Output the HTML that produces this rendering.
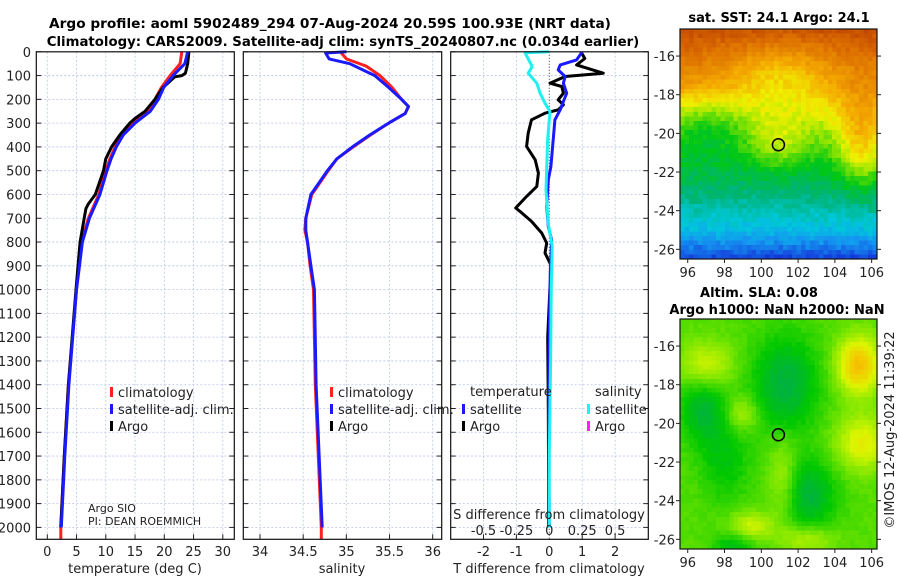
<!DOCTYPE html>
<html><head><meta charset="utf-8">
<style>
html,body{margin:0;padding:0;background:#fff;}
#wrap{position:relative;width:900px;height:580px;overflow:hidden;font-family:"DejaVu Sans","Liberation Sans",sans-serif;}
svg{position:absolute;left:0;top:0;}
canvas{position:absolute;image-rendering:pixelated;}
text{font-family:"DejaVu Sans","Liberation Sans",sans-serif;fill:#222;}
.b{font-weight:bold;fill:#000;font-size:13px;}
</style></head>
<body>
<div id="wrap">
<canvas id="map1" width="44" height="50" style="left:680px;top:29px;width:197px;height:230px;"></canvas>
<canvas id="map2" width="44" height="50" style="left:680px;top:319px;width:197px;height:230px;"></canvas>
<svg id="s" width="900" height="580" xmlns="http://www.w3.org/2000/svg">
<text class="b" x="330" y="28" text-anchor="middle" style="font-size:13.7px">Argo profile: aoml 5902489_294 07-Aug-2024 20.59S 100.93E (NRT data)</text>
<text class="b" x="343" y="46" text-anchor="middle" style="font-size:13.3px">Climatology: CARS2009. Satellite-adj clim: synTS_20240807.nc (0.034d earlier)</text>
<text class="b" x="779" y="22" text-anchor="middle">sat. SST: 24.1 Argo: 24.1</text>
<text class="b" x="759" y="297" text-anchor="middle">Altim. SLA: 0.08</text>
<text class="b" x="777" y="314" text-anchor="middle">Argo h1000: NaN h2000: NaN</text>
<text x="894" y="430" font-size="13" text-anchor="middle" transform="rotate(-90 894 430)">©IMOS 12-Aug-2024 11:39:22</text>
</svg>
</div>
<script>
// ---------------- data ----------------
const depthTicks=[0,100,200,300,400,500,600,700,800,900,1000,1100,1200,1300,1400,1500,1600,1700,1800,1900,2000];
const tempTicks=[0,5,10,15,20,25,30];
const salTicks=[34,34.5,35,35.5,36];
const salTickLabels=["34","34.5","35","35.5","36"];
const dTTicks=[-2,-1,0,1,2];
const dSTicks=[-0.5,-0.25,0,0.25,0.5];
const dSTickLabels=["-0.5","-0.25","0","0.25","0.5"];

const climTDepth=[0,50,100,150,200,250,300,350,400,450,500,600,700,800,900,1000,1400,1700,2000,2050];
const climT=[23.0,22.7,21.0,19.5,18.4,17.2,14.7,12.7,11.6,10.7,10.0,8.8,7.0,5.9,5.4,5.0,3.6,2.9,2.3,2.3];
const satTDepth=[0,50,100,150,200,250,300,350,400,450,500,600,700,800,900,1000,1400,1700,2000];
const satT=[24.0,23.5,21.5,19.9,19.0,17.6,15.0,13.0,11.8,10.9,10.2,9.0,7.2,6.0,5.5,5.0,3.7,3.0,2.4];
const argoTDepth=[0,50,90,100,105,150,200,250,280,300,350,400,450,500,550,600,640,660,700,800,1000,1400,1700,2000];
const argoT=[24.2,24.0,23.6,23.0,21.8,19.8,18.4,16.7,15.0,14.1,12.4,11.0,10.0,9.6,8.9,8.2,7.0,6.6,6.3,5.6,4.9,3.6,2.9,2.3];

const climSDepth=[0,30,60,100,150,200,230,260,300,350,400,450,500,600,700,750,800,900,1000,1400,2000,2050];
const climS=[34.93,35.0,35.23,35.39,35.53,35.64,35.72,35.68,35.49,35.28,35.08,34.89,34.79,34.60,34.53,34.52,34.55,34.58,34.62,34.64,34.71,34.71];
const satSDepth=[0,5,30,50,100,150,200,230,260,300,350,400,450,500,600,700,750,800,900,1000,1400,2000];
const satS=[35.0,34.76,34.80,35.04,35.33,35.49,35.64,35.72,35.68,35.49,35.27,35.07,34.89,34.78,34.59,34.53,34.53,34.55,34.59,34.63,34.65,34.72];

const dSatTDepth=[0,4,34,55,76,104,132,174,209,244,286,370,482,538,650,734,790,930,1200,1600,2000];
const dSatT=[0.98,0.98,0.83,0.33,0.27,0.48,0.43,0.53,0.43,0.33,0.17,0.12,0.05,-0.03,-0.08,-0.03,0.07,0.03,0.0,-0.02,0.0];
const dSatSDepth=[0,4,62,90,132,174,216,251,370,580,720,818,987,1300,1700,2000];
const dSatS=[0.0,-0.185,-0.13,-0.16,-0.095,-0.07,-0.033,0.005,-0.013,-0.025,-0.008,0.022,0.015,0.01,0.0,0.0];
const dArgoTDepth=[0,4,28,55,90,104,132,146,174,202,223,244,258,286,342,398,454,510,566,608,657,671,713,762,804,846,902,987,1200,1500,1800,2000];
const dArgoT=[0.98,0.98,1.08,0.83,1.64,0.48,0.02,0.38,0.43,0.27,0.43,0.27,-0.13,-0.54,-0.64,-0.69,-0.43,-0.33,-0.38,-0.69,-1.02,-0.89,-0.54,-0.23,-0.08,-0.13,0.07,0.02,-0.05,-0.03,-0.02,-0.02];

const mapLonTicks=[96,98,100,102,104,106];
const mapLatTicks=[-16,-18,-20,-22,-24,-26];
const floatLon=100.93, floatLat=-20.59;

// ---------------- layout helpers ----------------
const NS="http://www.w3.org/2000/svg";
const svg=document.getElementById('s');
function el(tag,attrs,parent){const e=document.createElementNS(NS,tag);for(const k in attrs)e.setAttribute(k,attrs[k]);(parent||svg).appendChild(e);return e;}
const TOP=51.8, BOT=539.3, DPX=0.2378;
const yD=d=>TOP+d*DPX;
const xT=t=>47.3+t*5.85;
const xS=s=>260+(s-34)*86.35;
const xDT=v=>549.3+v*32.9;
const xDS=v=>549.3+v*131.6;

function panel(x0,x1,name){
  const g=el('g',{});
  
  
  return g;
}
function frame(g,x0,x1,vgrid){
  vgrid.forEach(x=>{const l=el('line',{x1:x,x2:x,y1:TOP,y2:BOT,stroke:'#b8c4e8','stroke-width':0.8,'stroke-dasharray':'2,2'},g);});
  depthTicks.forEach(d=>{const y=yD(d);
    const l=el('line',{x1:x0,x2:x1,y1:y,y2:y,stroke:'#b8c4e8','stroke-width':0.8,'stroke-dasharray':'2,2'},g);
    el('line',{x1:x0,x2:x0+5,y1:y,y2:y,stroke:'#222','stroke-width':1},g);
    el('line',{x1:x1-5,x2:x1,y1:y,y2:y,stroke:'#222','stroke-width':1},g);
  });
  vgrid.forEach(x=>{el('line',{x1:x,x2:x,y1:BOT-5,y2:BOT,stroke:'#222','stroke-width':1},g);});
}
function border(g,x0,x1){const r=el('rect',{x:x0,y:TOP,width:x1-x0,height:BOT-TOP,fill:'none',stroke:'#111','stroke-width':1.2},g);}
function line(g,vals,depths,xf,color,w,name){
  const pts=vals.map((v,i)=>xf(v).toFixed(1)+','+yD(depths[i]).toFixed(1)).join(' ');
  const p=el('polyline',{points:pts,fill:'none',stroke:color,'stroke-width':w,'stroke-linejoin':'round'},g);
  
  
}
function txt(g,x,y,s,opts){const t=el('text',Object.assign({x:x,y:y,'font-size':13},opts||{}),g);t.textContent=s;return t;}
function legend(g,x,y,color,label,name){
  const r=el('rect',{x:x,y:y-10,width:3,height:10,fill:color},g);
  
  const t=txt(g,x+8,y,label);
  
}

// ---------------- panel 1: temperature ----------------
const p1=panel(36.3,234.3,'temperature-panel');
frame(p1,36.3,234.3,tempTicks.map(xT));
line(p1,climT,climTDepth,xT,'#ff2020',3,'temperature-climatology-line');
line(p1,argoT,argoTDepth,xT,'#000',3,'temperature-argo-line');
line(p1,satT,satTDepth,xT,'#1a1aff',3,'temperature-satellite-line');
border(p1,36.3,234.3);
depthTicks.forEach(d=>{const t=txt(p1,31,yD(d)+5,String(d),{'text-anchor':'end'});});
tempTicks.forEach(v=>{const t=txt(p1,xT(v),556,String(v),{'text-anchor':'middle'});});
{const t=txt(p1,135,573,'temperature (deg C)',{'text-anchor':'middle'});}
legend(p1,110,397,'#ff2020','climatology','legend-climatology');
legend(p1,110,414,'#1a1aff','satellite-adj. clim.','legend-satellite-adj');
legend(p1,110,431,'#000','Argo','legend-argo');
{const t=txt(p1,88,512,'Argo SIO',{'font-size':11});}
{const t=txt(p1,88,525,'PI: DEAN ROEMMICH',{'font-size':11});}

// ---------------- panel 2: salinity ----------------
const p2=panel(243.3,441.7,'salinity-panel');
frame(p2,243.3,441.7,salTicks.map(xS));
line(p2,climS,climSDepth,xS,'#ff2020',3,'salinity-climatology-line');
line(p2,satS,satSDepth,xS,'#1a1aff',3,'salinity-satellite-line');
border(p2,243.3,441.7);
salTicks.forEach((v,i)=>{const t=txt(p2,xS(v),556,salTickLabels[i],{'text-anchor':'middle'});});
{const t=txt(p2,342,573,'salinity',{'text-anchor':'middle'});}
legend(p2,330,397,'#ff2020','climatology','legend-climatology-s');
legend(p2,330,414,'#1a1aff','satellite-adj. clim.','legend-satellite-adj-s');
legend(p2,330,431,'#000','Argo','legend-argo-s');

// ---------------- panel 3: differences ----------------
const p3=panel(450.7,648.3,'difference-panel');
frame(p3,450.7,648.3,[-2,-1,1,2].map(xDT));
{const l=el('line',{x1:549.3,x2:549.3,y1:TOP,y2:BOT,stroke:'#333','stroke-width':1,'stroke-dasharray':'1,2'},p3);}
line(p3,dArgoT,dArgoTDepth,xDT,'#000',3,'argo-temperature-difference-line');
line(p3,dSatT,dSatTDepth,xDT,'#1a1aff',3,'satellite-temperature-difference-line');
line(p3,dSatS,dSatSDepth,xDS,'#20f0f0',3,'satellite-salinity-difference-line');
border(p3,450.7,648.3);
dTTicks.forEach(v=>{const t=txt(p3,xDT(v),556,String(v),{'text-anchor':'middle'});});
dSTicks.forEach((v,i)=>{const t=txt(p3,xDS(v),535,dSTickLabels[i],{'text-anchor':'middle'});});
{const t=txt(p3,549,519,'S difference from climatology',{'text-anchor':'middle'});}
{const t=txt(p3,549,573,'T difference from climatology',{'text-anchor':'middle'});}
{const t=txt(p3,470,396,'temperature');}
{const t=txt(p3,595,396,'salinity');}
legend(p3,462,414,'#1a1aff','satellite','legend-t-satellite');
legend(p3,462,431,'#000','Argo','legend-t-argo');
legend(p3,587,414,'#20f0f0','satellite','legend-s-satellite');
legend(p3,587,431,'#ff20ff','Argo','legend-s-argo');

// ---------------- maps ----------------
const LON0=95.58,LON1=106.29,LAT0=-14.6,LAT1=-26.5;
function hash(i,j){let h=(i*374761393+j*668265263)^0x5bd1e995;h=(h^(h>>>13))*1274126177;return ((h^(h>>>16))>>>0)/4294967296;}
function lerpCol(stops,v){v=Math.max(0,Math.min(1,v));for(let i=0;i<stops.length-1;i++){const a=stops[i],b=stops[i+1];if(v<=b[0]){const t=(v-a[0])/(b[0]-a[0]);return a[1].map((c,k)=>Math.round(c+(b[1][k]-c)*t));}}return stops[stops.length-1][1];}
const jet=[[0,[0,20,150]],[0.1,[20,60,220]],[0.2,[20,150,240]],[0.28,[0,200,220]],[0.36,[0,180,120]],[0.45,[0,200,20]],[0.55,[150,230,0]],[0.62,[240,240,0]],[0.72,[245,170,0]],[0.85,[220,110,0]],[1,[170,40,0]]];
function g(x,y,cx,cy,sx,sy){return Math.exp(-((x-cx)*(x-cx)/(2*sx*sx)+(y-cy)*(y-cy)/(2*sy*sy)));}
const sstLatK=[-14.6,-16,-17.5,-18.5,-19.5,-20.5,-22,-23.5,-25,-26,-26.5];
const sstLatV=[0.92,0.84,0.76,0.66,0.56,0.48,0.41,0.34,0.26,0.16,0.1];
function sstBase(lat){for(let i=0;i<sstLatK.length-1;i++){if(lat>=sstLatK[i+1]){const t=(lat-sstLatK[i])/(sstLatK[i+1]-sstLatK[i]);return sstLatV[i]+(sstLatV[i+1]-sstLatV[i])*t;}}return sstLatV[sstLatV.length-1];}
function sst(lon,lat){
  let v=sstBase(lat);
  v+=0.1*g(lon,lat,101,-20.5,1.2,1.0)+0.2*g(lon,lat,105.5,-20.5,1,1.6)-0.12*g(lon,lat,101,-17,2,1.2)-0.08*g(lon,lat,97,-19.5,1.5,1);
  return v;
}
function sla(lon,lat){
  let v=0.47;
  v+=0.12*g(lon,lat,97,-17,1,0.8)+0.25*g(lon,lat,105.3,-17,0.8,1)+0.15*g(lon,lat,105.5,-21,1,1)+0.1*g(lon,lat,101.2,-23,0.6,1.5)+0.12*g(lon,lat,99.5,-25.3,0.8,0.5)+0.1*g(lon,lat,102.5,-26,1,0.5)+0.1*g(lon,lat,99,-19.5,0.6,0.6);
  v-=0.14*g(lon,lat,101.3,-18,1.3,1.8)+0.12*g(lon,lat,96.8,-19.3,0.9,1.2)+0.14*g(lon,lat,102.5,-23.7,1.1,1.3)+0.1*g(lon,lat,98.5,-26.4,0.8,0.5)+0.08*g(lon,lat,98,-22,1,1.5);
  return v;
}
const slaPal=[[0,[0,150,110]],[0.3,[0,170,90]],[0.4,[0,200,0]],[0.5,[120,230,0]],[0.6,[220,245,0]],[0.7,[245,200,0]],[0.8,[240,150,0]],[1,[220,100,0]]];
function drawMap(id,fn,pal,noise){
  const c=document.getElementById(id),ctx=c.getContext('2d');
  const W=c.width,H=c.height;
  for(let i=0;i<W;i++)for(let j=0;j<H;j++){
    const lon=LON0+(i+0.5)/W*(LON1-LON0),lat=LAT0+(j+0.5)/H*(LAT1-LAT0);
    const v=fn(lon,lat)+(hash(i,j)-0.5)*noise;
    const col=lerpCol(pal,v);ctx.fillStyle='rgb('+col.join(',')+')';ctx.fillRect(i,j,1,1);
  }
}
drawMap('map1',sst,jet,0.05);
drawMap('map2',sla,slaPal,0.02);
const MX0=680,MX1=877;
const xLon=l=>MX0+(l-LON0)/(LON1-LON0)*(MX1-MX0);
function mapAxes(y0,y1,name){
  const gm=el('g',{});
  
  
  const yLat=l=>y0+(l-LAT0)/(LAT1-LAT0)*(y1-y0);
  const r=el('rect',{x:MX0,y:y0,width:MX1-MX0,height:y1-y0,fill:'none',stroke:'#111','stroke-width':1.2},gm);
  
  mapLonTicks.forEach(l=>{const x=xLon(l);el('line',{x1:x,x2:x,y1:y1,y2:y1+4,stroke:'#222'},gm);
    const t=txt(gm,x,y1+18,String(l),{'text-anchor':'middle'});});
  mapLatTicks.forEach(l=>{const y=yLat(l);el('line',{x1:MX0-4,x2:MX0,y1:y,y2:y,stroke:'#222'},gm);el('line',{x1:MX1,x2:MX1+4,y1:y,y2:y,stroke:'#222'},gm);
    const t=txt(gm,675,y+5,String(l),{'text-anchor':'end'});});
  const c=el('ellipse',{cx:xLon(floatLon),cy:yLat(floatLat),rx:6,ry:6,fill:'none',stroke:'#000','stroke-width':1.5},gm);
  
}
mapAxes(29,259,'sst-map-axes');
mapAxes(319,549,'sla-map-axes');
</script>
</body></html>
